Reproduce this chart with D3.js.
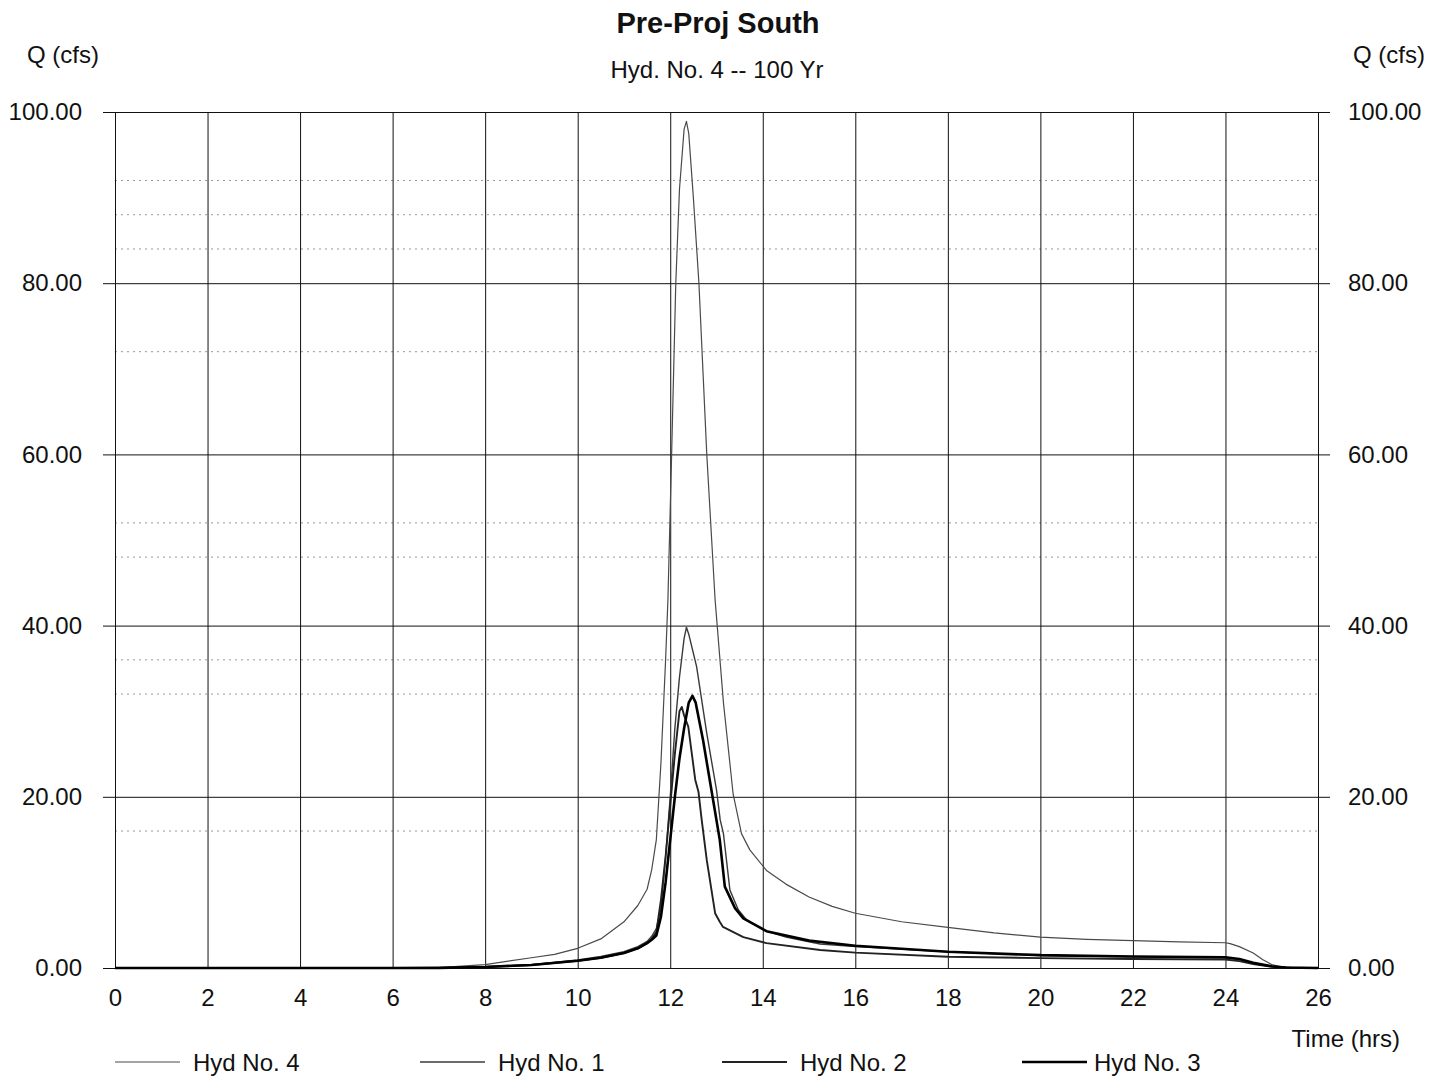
<!DOCTYPE html>
<html>
<head>
<meta charset="utf-8">
<script src="https://cdn.jsdelivr.net/npm/d3@7"></script>
<style>
    body { margin: 0; background: #fff; }
    svg { font-family: "Liberation Sans", Arial, sans-serif; }
    .tick text { font-size: 24px; fill: #111; }
    .grid .tick line { stroke: #111; stroke-width: 1; }
    .minor { stroke: #999; stroke-width: 1; stroke-dasharray: 2,4; }
    .title { font-size: 29px; font-weight: bold; fill: #111; }
    .label { font-size: 24px; fill: #111; }
</style>
</head>
<body>
<svg width="1444" height="1077"></svg>
<script>
// tick values
const xTicks = [0, 2, 4, 6, 8, 10, 12, 14, 16, 18, 20, 22, 24, 26];
const yTicks = [0, 20, 40, 60, 80, 100];
const minorTicks = [16, 32, 36, 48, 52, 72, 84, 88, 92];

// Hyd No. 4 (combined)
const hyd4Time = [0, 6, 7, 8, 9, 9.5, 10, 10.5, 11, 11.3, 11.5, 11.6, 11.7, 11.8, 11.9, 11.95, 12.03, 12.12, 12.2, 12.3, 12.35, 12.4, 12.5, 12.62, 12.79, 12.97, 13.15, 13.36, 13.54, 13.72, 14.08, 14.5, 15, 15.5, 16, 17, 18, 19, 20, 21, 22, 23, 24, 24.1, 24.3, 24.6, 24.8, 25, 25.2, 25.5, 26];
const hyd4Flow = [0, 0, 0.05, 0.4, 1.2, 1.6, 2.3, 3.4, 5.4, 7.3, 9.2, 11.5, 15, 24, 36, 43, 60, 80, 91, 98, 98.9, 97.5, 90, 80, 60, 43, 31, 20.3, 15.7, 13.8, 11.4, 9.8, 8.3, 7.2, 6.4, 5.4, 4.75, 4.1, 3.6, 3.35, 3.2, 3.05, 2.95, 2.85, 2.5, 1.75, 1.0, 0.4, 0.15, 0.03, 0];

// Hyd No. 1
const hyd1Time = [0, 6, 7, 8, 9, 10, 10.5, 11, 11.3, 11.5, 11.6, 11.7, 11.8, 11.9, 12.0, 12.1, 12.2, 12.3, 12.35, 12.4, 12.57, 12.79, 13.0, 13.08, 13.15, 13.29, 13.47, 13.65, 14.08, 14.5, 15.24, 16, 18, 20, 22, 24, 24.3, 24.6, 25, 25.3, 26];
const hyd1Flow = [0, 0, 0.02, 0.15, 0.4, 0.95, 1.35, 1.9, 2.5, 3.1, 3.7, 4.6, 7, 13, 20, 28, 34, 38.5, 39.8, 39, 35.2, 27.4, 20.8, 17.3, 15.7, 9.1, 6.8, 5.6, 4.3, 3.6, 2.8, 2.5, 1.9, 1.45, 1.3, 1.2, 1.0, 0.6, 0.2, 0.05, 0];

// Hyd No. 2
const hyd2Time = [0, 6, 7, 8, 9, 10, 10.5, 11, 11.3, 11.5, 11.6, 11.7, 11.8, 11.9, 12.0, 12.1, 12.2, 12.25, 12.3, 12.39, 12.54, 12.61, 12.68, 12.79, 12.97, 13.07, 13.14, 13.58, 14.08, 15.24, 16, 18, 20, 22, 24, 24.3, 24.6, 25, 25.3, 26];
const hyd2Flow = [0, 0, 0.02, 0.12, 0.35, 0.85, 1.2, 1.75, 2.3, 2.9, 3.4, 4.2, 8, 13, 19, 25, 30, 30.5, 29.5, 28.2, 22, 20.6, 17.3, 12.6, 6.4, 5.4, 4.8, 3.6, 2.9, 2.1, 1.8, 1.32, 1.15, 1.05, 1.0, 0.8, 0.45, 0.15, 0.03, 0];

// Hyd No. 3
const hyd3Time = [0, 6, 7, 8, 9, 10, 10.5, 11, 11.3, 11.5, 11.6, 11.7, 11.8, 11.9, 12.0, 12.1, 12.2, 12.3, 12.4, 12.48, 12.55, 12.71, 12.93, 13.07, 13.18, 13.4, 13.58, 14.08, 15, 16, 18, 20, 22, 24, 24.3, 24.6, 25, 25.3, 26];
const hyd3Flow = [0, 0, 0.02, 0.12, 0.35, 0.85, 1.2, 1.75, 2.3, 2.9, 3.3, 3.8, 6, 10, 15, 20, 24.5, 28, 31, 31.8, 31, 26.6, 19.5, 15, 9.5, 7, 5.8, 4.3, 3.2, 2.6, 1.9, 1.5, 1.35, 1.25, 1.05, 0.6, 0.2, 0.05, 0];

const seriesNames = ['Hyd No. 4', 'Hyd No. 1', 'Hyd No. 2', 'Hyd No. 3'];

const render = () => {
    const svg = d3.select('svg');
    const width = +svg.attr('width');
    const height = +svg.attr('height');
    const margin = { top: 112, right: 126, bottom: 109, left: 115 };
    const innerWidth = width - margin.left - margin.right;
    const innerHeight = height - margin.top - margin.bottom;

    const xScale = d3.scaleLinear().domain([0, 26]).range([0, innerWidth]);
    const yScale = d3.scaleLinear().domain([0, 100]).range([innerHeight, 0]);

    const g = svg.append('g')
        .attr('transform', `translate(${margin.left},${margin.top})`);

    // dotted minor lines
    g.selectAll('.minor').data(minorTicks)
        .enter().append('line').attr('class', 'minor')
        .attr('x1', 0).attr('x2', innerWidth)
        .attr('y1', d => yScale(d)).attr('y2', d => yScale(d));

    addingAxes(xScale, yScale, innerWidth, innerHeight, g);

    const styles = [
        { color: '#4a4a4a', width: 1.2 },
        { color: '#3a3a3a', width: 1.4 },
        { color: '#222', width: 1.9 },
        { color: '#000', width: 2.6 }
    ];
    const series = [
        d3.zip(hyd4Time, hyd4Flow),
        d3.zip(hyd1Time, hyd1Flow),
        d3.zip(hyd2Time, hyd2Flow),
        d3.zip(hyd3Time, hyd3Flow)
    ];

    const line = d3.line()
        .x(d => xScale(d[0]))
        .y(d => yScale(d[1]));

    g.selectAll('.hyd').data(series)
        .enter().append('path').attr('class', 'hyd')
        .attr('fill', 'none')
        .attr('stroke', (d, i) => styles[i].color)
        .attr('stroke-width', (d, i) => styles[i].width)
        .attr('stroke-linejoin', 'round')
        .attr('d', line);

    addingTitles(svg, width);
    addingLegend(svg, styles);
};

//Axes with grid lines, labels on both sides
const addingAxes = (xScale, yScale, innerWidth, innerHeight, g) => {
    const fmt = d3.format('.2f');

    const yAxisG = g.append('g').attr('class', 'grid')
        .attr('transform', 'translate(-12,0)')
        .call(d3.axisLeft(yScale).tickValues(yTicks).tickFormat(fmt)
            .tickSize(-(innerWidth + 24)).tickPadding(21));
    yAxisG.select('.domain').remove();

    const yAxisR = g.append('g')
        .attr('transform', `translate(${innerWidth},0)`)
        .call(d3.axisRight(yScale).tickValues(yTicks).tickFormat(fmt)
            .tickSize(0).tickPadding(30));
    yAxisR.select('.domain').remove();

    const xAxisG = g.append('g').attr('class', 'grid')
        .attr('transform', `translate(0,${innerHeight})`)
        .call(d3.axisBottom(xScale).tickValues(xTicks)
            .tickSize(-innerHeight).tickPadding(21));
    xAxisG.select('.domain').remove();
};

const addingTitles = (svg, width) => {
    svg.append('text').attr('class', 'title')
        .attr('x', 718).attr('y', 33)
        .attr('text-anchor', 'middle')
        .text('Pre-Proj South');

    svg.append('text').attr('class', 'label')
        .attr('x', 717).attr('y', 78)
        .attr('text-anchor', 'middle')
        .text('Hyd. No. 4 -- 100 Yr');

    svg.append('text').attr('class', 'label')
        .attr('x', 27).attr('y', 63)
        .text('Q (cfs)');

    svg.append('text').attr('class', 'label')
        .attr('x', 1425).attr('y', 63)
        .attr('text-anchor', 'end')
        .text('Q (cfs)');

    svg.append('text').attr('class', 'label')
        .attr('x', 1400).attr('y', 1047)
        .attr('text-anchor', 'end')
        .text('Time (hrs)');
};

const addingLegend = (svg, styles) => {
    const legendX = [115, 420, 722, 1022];
    const item = svg.selectAll('.legend').data(seriesNames)
        .enter().append('g').attr('class', 'legend')
        .attr('transform', (d, i) => `translate(${legendX[i]},1062)`);

    item.append('line')
        .attr('x1', 0).attr('x2', 65)
        .attr('stroke', (d, i) => styles[i].color)
        .attr('stroke-width', (d, i) => styles[i].width);

    item.append('text').attr('class', 'label')
        .attr('x', (d, i) => i === 3 ? 72 : 78)
        .attr('y', 9)
        .text(d => d);
};

render();
</script>
</body>
</html>
